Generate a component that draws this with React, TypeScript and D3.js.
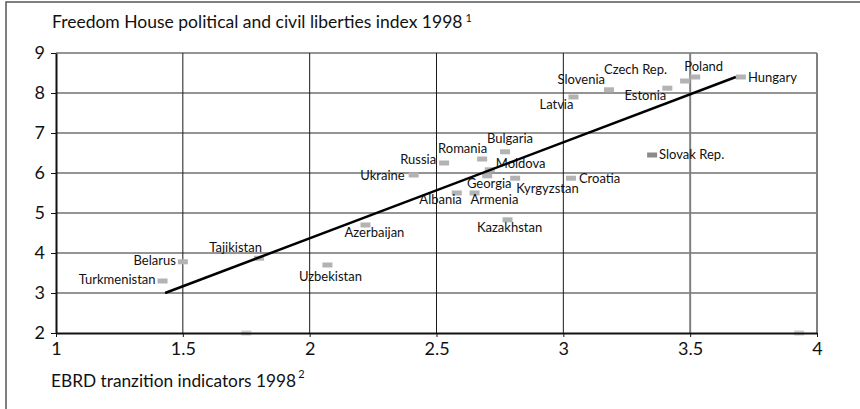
import React, { useEffect, useRef } from 'react';
import * as d3 from 'd3';

// EBRD transition indicator (x) vs Freedom House index (y), 1998
const countries = [
  'Hungary', 'Poland', 'Czech Rep.', 'Estonia', 'Slovenia', 'Latvia', 'Slovak Rep.',
  'Croatia', 'Bulgaria', 'Romania', 'Russia', 'Moldova', 'Georgia', 'Kyrgyzstan',
  'Ukraine', 'Albania', 'Armenia', 'Kazakhstan', 'Azerbaijan', 'Tajikistan',
  'Belarus', 'Turkmenistan', 'Uzbekistan',
];
const ebrd = [
  3.70, 3.52, 3.48, 3.41, 3.18, 3.04, 3.35,
  3.03, 2.77, 2.68, 2.53, 2.71, 2.70, 2.81,
  2.41, 2.58, 2.65, 2.78, 2.22, 1.80,
  1.50, 1.42, 2.07,
];
const freedom = [
  8.40, 8.40, 8.30, 8.12, 8.08, 7.90, 6.45,
  5.87, 6.53, 6.35, 6.25, 6.08, 5.93, 5.87,
  5.95, 5.50, 5.50, 4.83, 4.70, 3.87,
  3.78, 3.30, 3.70,
];
// unlabelled points sitting on the x axis
const axisPointsX = [1.75, 3.93];
const axisPointsY = [2, 2];

// fitted line end points
const trendX = [1.43, 3.68];
const trendY = [3.0, 8.4];

const xTicks = [1, 1.5, 2, 2.5, 3, 3.5, 4];
const yTicks = [2, 3, 4, 5, 6, 7, 8, 9];

const yTitle = 'Freedom House political and civil liberties index 1998';
const xTitle = 'EBRD tranzition indicators 1998';

// label offset from marker centre: dx, dy, anchor
const labelPos: Record<string, [number, number, string]> = {
  'Hungary': [7, 5, 'start'],
  'Poland': [-11, -6, 'start'],
  'Czech Rep.': [-18, -7, 'end'],
  'Estonia': [-1, 12, 'end'],
  'Slovenia': [-4, -6, 'end'],
  'Latvia': [0, 12, 'end'],
  'Slovak Rep.': [7, 4, 'start'],
  'Croatia': [8, 5, 'start'],
  'Bulgaria': [5, -9, 'middle'],
  'Romania': [5, -6, 'end'],
  'Russia': [-8, 1, 'end'],
  'Moldova': [6, -2, 'start'],
  'Georgia': [2, 12, 'middle'],
  'Kyrgyzstan': [1, 15, 'start'],
  'Ukraine': [-9, 5, 'end'],
  'Albania': [5, 11, 'end'],
  'Armenia': [-4, 11, 'start'],
  'Kazakhstan': [2, 12, 'middle'],
  'Azerbaijan': [9, 12, 'middle'],
  'Tajikistan': [3, -6, 'end'],
  'Belarus': [-7, 3, 'end'],
  'Turkmenistan': [-7, 3, 'end'],
  'Uzbekistan': [3, 16, 'middle'],
};

const FONT = 'Lato, "Open Sans", sans-serif';

export default function App() {
  const svgRef = useRef<SVGSVGElement>(null);

  useEffect(() => {
    const width = 860;
    const height = 409;
    const svg = d3.select(svgRef.current);
    svg.selectAll('*').remove();
    svg.attr('width', width).attr('height', height);

    const x = d3.scaleLinear().domain([1, 4]).range([56, 817]);
    const y = d3.scaleLinear().domain([2, 9]).range([333, 53]);

    // outer frame (open at right/bottom edges)
    svg.append('rect')
      .attr('x', 6).attr('y', 2)
      .attr('width', 900).attr('height', 460)
      .attr('fill', 'white')
      .attr('stroke', '#555').attr('stroke-width', 1.5);

    // gridlines
    svg.append('g').selectAll('line')
      .data(yTicks.filter(d => d > 2))
      .enter().append('line')
      .attr('x1', x(1)).attr('x2', x(4))
      .attr('y1', d => y(d)).attr('y2', d => y(d))
      .attr('stroke', '#2a2a2a').attr('stroke-width', 1);

    svg.append('g').selectAll('line')
      .data(xTicks.filter(d => d > 1))
      .enter().append('line')
      .attr('x1', d => x(d)).attr('x2', d => x(d))
      .attr('y1', y(9)).attr('y2', y(2))
      .attr('stroke', d => d >= 3.5 ? '#808080' : '#1a1a1a')
      .attr('stroke-width', d => d >= 3.5 ? 2 : 1);

    // markers
    const pts = countries.map((c, i) => ({ name: c, x: ebrd[i], y: freedom[i] }));
    const extra = axisPointsX.map((v, i) => ({ name: '', x: v, y: axisPointsY[i] }));

    svg.append('g').selectAll('rect')
      .data([...extra, ...pts])
      .enter().append('rect')
      .attr('x', d => x(d.x) - 5)
      .attr('y', d => y(d.y) - 2.5)
      .attr('width', 10).attr('height', 5)
      .attr('fill', d => d.name === 'Slovak Rep.' ? '#8a8a8a' : d.name === '' ? '#cfcfcf' : '#b3b3b3');

    // labels
    svg.append('g').selectAll('text')
      .data(pts)
      .enter().append('text')
      .attr('x', d => x(d.x) + labelPos[d.name][0])
      .attr('y', d => y(d.y) + labelPos[d.name][1])
      .attr('text-anchor', d => labelPos[d.name][2])
      .attr('font-family', FONT)
      .attr('font-size', 13)
      .attr('fill', '#111')
      .text(d => d.name);

    // fitted line
    svg.append('path')
      .datum(trendX.map((v, i) => [v, trendY[i]] as [number, number]))
      .attr('d', d3.line<[number, number]>().x(d => x(d[0])).y(d => y(d[1])))
      .attr('fill', 'none')
      .attr('stroke', '#000')
      .attr('stroke-width', 2.5);

    // axes
    const xAxis = svg.append('g')
      .attr('transform', `translate(0,${y(2)})`)
      .call(d3.axisBottom(x).tickValues(xTicks).tickSize(4).tickSizeOuter(0)
        .tickPadding(5).tickFormat(d3.format('')));
    const yAxis = svg.append('g')
      .attr('transform', `translate(${x(1)},0)`)
      .call(d3.axisLeft(y).tickValues(yTicks).tickSize(5).tickSizeOuter(0)
        .tickPadding(6).tickFormat(d3.format('')));

    [xAxis, yAxis].forEach(g => {
      g.select('.domain').attr('stroke', '#111').attr('stroke-width', 2);
      g.selectAll('.tick line').attr('stroke', '#111');
      g.selectAll('.tick text')
        .attr('font-family', FONT)
        .attr('font-size', 18)
        .attr('fill', '#111');
    });

    // titles with footnote marks
    const t1 = svg.append('text')
      .attr('x', 52).attr('y', 28)
      .attr('font-family', FONT).attr('font-size', 17.5).attr('fill', '#111');
    t1.append('tspan').text(yTitle);
    t1.append('tspan').attr('dx', 3).attr('dy', -6).attr('font-size', 11).text('1');

    const t2 = svg.append('text')
      .attr('x', 51).attr('y', 387)
      .attr('font-family', FONT).attr('font-size', 17.3).attr('fill', '#111');
    t2.append('tspan').text(xTitle);
    t2.append('tspan').attr('dx', 2).attr('dy', -9).attr('font-size', 11).text('2');
  }, []);

  return (
    <div style={{ position: 'absolute', left: 0, top: 0 }}>
      <svg ref={svgRef}></svg>
    </div>
  );
}
